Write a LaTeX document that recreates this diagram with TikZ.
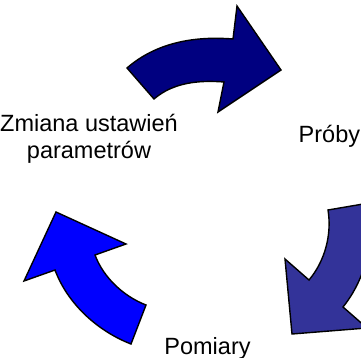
\documentclass[tikz,border=0pt]{standalone}
\usepackage{fontspec}
\setmainfont{Liberation Sans}
\usetikzlibrary{calc}

\definecolor{darknavy}{HTML}{000080}
\definecolor{slateblue}{HTML}{333399}
\definecolor{brightblue}{HTML}{0000FF}

\begin{document}
\begin{tikzpicture}[x=1pt, y=-1pt,
    curved/.style={draw=black, line width=1.4pt, line join=miter},
    cyclelabel/.style={inner sep=0pt, font=\fontsize{23.5}{27}\selectfont}]
    \useasboundingbox (0,0) rectangle (361,358);
    \clip (0,0) rectangle (361,358);

    % top arrow
    \filldraw[curved, fill=darknavy]
        (127,68) .. controls (156.3,42.5) and (194.5,35.9) .. (233,39)
        -- (237,6) -- (281,70) -- (218,112) -- (224,82)
        .. controls (199,80) and (173.2,82.4) .. (154,99) -- cycle;

    % right arrow
    \filldraw[curved, fill=slateblue]
        (369,203) .. controls (375,239) and (366,278.5) .. (343,307)
        -- (367,328) -- (292,334) -- (285,259) -- (309,280)
        .. controls (325,261) and (332,234.5) .. (328,210) -- cycle;

    % left arrow
    \filldraw[curved, fill=brightblue]
        (56,212) -- (126,244) -- (95,255)
        .. controls (103.4,277.6) and (123.7,296.4) .. (146,305)
        -- (131,344) .. controls (97.5,331) and (67.6,303.8) .. (55,270)
        -- (24,281) -- cycle;

    \node[cyclelabel, align=center] (zmiana) at (89,139) {Zmiana ustawień\\parametrów};
    \node[cyclelabel, anchor=base west] (proby) at (298.5,143) {Próby};
    \node[cyclelabel, anchor=base] (pomiary) at (207.5,354) {Pomiary};
\end{tikzpicture}
\end{document}
